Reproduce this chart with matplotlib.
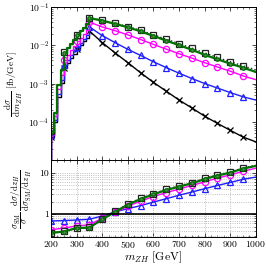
import matplotlib
matplotlib.use("Agg")
import matplotlib.pyplot as plt
import numpy as np
from matplotlib.ticker import MultipleLocator, LogLocator, NullFormatter, FixedLocator, FixedFormatter

plt.rcParams['font.family'] = 'serif'
plt.rcParams['font.serif'] = ['cmr10', 'DejaVu Serif']
plt.rcParams['mathtext.fontset'] = 'cm'
plt.rcParams['axes.formatter.use_mathtext'] = True

# m_ZH grid: fine binning near threshold, then 50 GeV
m_fine = [187.5, 200, 212.5, 225, 237.5, 250, 262.5, 275, 287.5, 300, 312.5, 325, 337.5, 350]
m_coarse = [350, 400, 450, 500, 550, 600, 650, 700, 750, 800, 850, 900, 950, 1000]
m_marks = [200, 250, 300, 350, 400, 450, 500, 550, 600, 650, 700, 750, 800, 850, 900, 950]

# dsigma/dm [fb/GeV], below-threshold bin first
sm_fine = [1e-9, 4.0e-5, 1.0e-4, 4.5e-4, 1.05e-3, 2.5e-3, 3.5e-3, 4.7e-3, 6.0e-3, 7.9e-3, 1.0e-2, 1.26e-2, 1.58e-2, 2.35e-2]
sm_coarse = [2.35e-2, 1.17e-2, 6.3e-3, 3.5e-3, 1.9e-3, 1.07e-3, 6.3e-4, 3.7e-4, 2.3e-4, 1.4e-4, 9.1e-5, 6.0e-5, 4.0e-5, 3.0e-5]

blue_fine = [1e-9, 4.5e-5, 1.1e-4, 5.2e-4, 1.26e-3, 3.1e-3, 4.2e-3, 5.5e-3, 7.1e-3, 9.1e-3, 1.15e-2, 1.45e-2, 1.82e-2, 3.0e-2]
blue_coarse = [3.0e-2, 1.78e-2, 1.17e-2, 7.8e-3, 5.4e-3, 3.7e-3, 2.6e-3, 1.86e-3, 1.35e-3, 1.0e-3, 7.6e-4, 5.8e-4, 4.5e-4, 3.7e-4]

mag_fine = [1e-9, 5.0e-5, 1.4e-4, 7.1e-4, 1.66e-3, 4.2e-3, 5.6e-3, 7.4e-3, 9.8e-3, 1.26e-2, 1.58e-2, 2.0e-2, 2.5e-2, 4.0e-2]
mag_coarse = [4.0e-2, 3.0e-2, 2.4e-2, 1.86e-2, 1.41e-2, 1.05e-2, 7.9e-3, 6.0e-3, 4.6e-3, 3.5e-3, 2.7e-3, 2.1e-3, 1.58e-3, 1.26e-3]

grn_fine = [1e-9, 5.5e-5, 1.7e-4, 9.1e-4, 2.3e-3, 6.3e-3, 8.3e-3, 1.07e-2, 1.4e-2, 1.86e-2, 2.3e-2, 2.8e-2, 3.5e-2, 5.1e-2]
grn_coarse = [5.1e-2, 4.4e-2, 3.6e-2, 2.95e-2, 2.3e-2, 1.74e-2, 1.32e-2, 1.0e-2, 7.6e-3, 5.6e-3, 4.3e-3, 3.3e-3, 2.6e-3, 2.0e-3]

sq_fine = [1e-9, 5.6e-5, 1.75e-4, 9.3e-4, 2.35e-3, 6.5e-3, 8.5e-3, 1.1e-2, 1.43e-2, 1.9e-2, 2.35e-2, 2.85e-2, 3.55e-2, 5.2e-2]
sq_coarse = [5.2e-2, 4.5e-2, 3.7e-2, 3.05e-2, 2.45e-2, 1.87e-2, 1.43e-2, 1.1e-2, 8.4e-3, 6.3e-3, 4.8e-3, 3.7e-3, 2.9e-3, 2.25e-3]

# normalized ratio to SM
m_ratio = [200, 250, 300, 350, 400, 450, 500, 550, 600, 650, 700, 750, 800, 850, 900, 950, 1000]
blue_ratio = [0.68, 0.70, 0.72, 0.75, 0.90, 1.13, 1.35, 1.6, 1.95, 2.35, 2.85, 3.4, 4.1, 4.9, 5.8, 6.9, 7.8]
mag_ratio = [0.42, 0.46, 0.52, 0.55, 0.80, 1.10, 1.55, 2.05, 2.65, 3.3, 4.0, 4.9, 6.0, 7.4, 8.8, 10.8, 12.8]
grn_ratio = [0.35, 0.38, 0.46, 0.47, 0.75, 1.13, 1.70, 2.3, 3.0, 3.8, 4.6, 5.5, 7.0, 8.5, 10.0, 12.5, 14.5]
sq_ratio = [0.35, 0.385, 0.47, 0.48, 0.77, 1.16, 1.75, 2.4, 3.1, 3.95, 4.8, 5.7, 7.3, 8.8, 10.4, 13.0, 15.0]

styles = [
    # fine, coarse, ratio, color, marker, ms, mfc, lw, ls
    (sm_fine, sm_coarse, None, 'black', 'x', 4, 'black', 1.0, '-'),
    (blue_fine, blue_coarse, blue_ratio, '#1f1fff', '^', 4.5, 'none', 1.0, '-'),
    (mag_fine, mag_coarse, mag_ratio, '#ff00ff', 'o', 4.5, 'none', 1.0, '-'),
    (sq_fine, sq_coarse, sq_ratio, '#222222', 's', 5, 'none', 1.0, ':'),
    (grn_fine, grn_coarse, grn_ratio, '#007000', 'o', 2.5, '#5a8a5a', 1.6, '-'),
]

fig = plt.figure(figsize=(2.66, 2.66), dpi=100)
ax1 = fig.add_axes([0.192, 0.398, 0.770, 0.576])
ax2 = fig.add_axes([0.192, 0.109, 0.770, 0.289], sharex=ax1)

for fine, coarse, ratio, col, mk, ms, mfc, lw, ls in styles:
    mx = np.concatenate([m_fine, m_coarse[1:]])
    my = np.concatenate([fine, coarse[1:]])
    ax1.step(m_fine, fine, where='post', color=col, lw=lw, ls=ls)
    ax1.plot(m_coarse, coarse, color=col, lw=lw, ls=ls)
    sel = np.isin(mx, m_marks)
    ax1.plot(mx[sel], my[sel], ls='none', marker=mk, ms=ms, mfc=mfc, mec=col, mew=0.9)
    if ratio is not None:
        r = np.array(ratio)
        mr = np.array(m_ratio)
        ax2.plot(mr, r, color=col, lw=lw, ls=ls)
        sel2 = np.isin(mr, m_marks)
        ax2.plot(mr[sel2], r[sel2], ls='none', marker=mk, ms=ms, mfc=mfc, mec=col, mew=0.9)

ax2.axhline(1.0, color='black', lw=1.2)

ax1.set_yscale('log')
ax1.set_ylim(1e-5, 1e-1)
ax1.set_xlim(200, 1000)
ax1.yaxis.set_major_locator(FixedLocator([1e-5, 1e-4, 1e-3, 1e-2, 1e-1]))
ax1.yaxis.set_major_formatter(FixedFormatter(['', r'$10^{-4}$', r'$10^{-3}$', r'$10^{-2}$', r'$10^{-1}$']))
ax1.yaxis.set_minor_locator(LogLocator(base=10, subs=np.arange(2, 10), numticks=20))
ax1.yaxis.set_minor_formatter(NullFormatter())
plt.setp(ax1.get_xticklabels(), visible=False)

ax2.set_yscale('log')
ax2.set_ylim(0.28, 20)
ax2.yaxis.set_major_locator(FixedLocator([1, 10]))
ax2.yaxis.set_major_formatter(FixedFormatter(['1', '10']))
ax2.yaxis.set_minor_locator(LogLocator(base=10, subs=np.arange(2, 10), numticks=20))
ax2.yaxis.set_minor_formatter(NullFormatter())
ax2.xaxis.set_major_locator(MultipleLocator(100))
ax2.xaxis.set_minor_locator(MultipleLocator(25))
ax2.grid(True, which='major', axis='x', ls=':', color='#aaaaaa', lw=0.6)
ax2.grid(True, which='both', axis='y', ls=':', color='#aaaaaa', lw=0.6)

for ax in (ax1, ax2):
    ax.tick_params(which='both', direction='in', top=True, right=True, labelsize=7, pad=1.5)
    ax.tick_params(which='major', length=3, width=0.5)
    ax.tick_params(which='minor', length=1.5, width=0.4)
    for s in ax.spines.values():
        s.set_linewidth(0.7)

ax1.set_ylabel(r'$\dfrac{\mathrm{d}\sigma}{\mathrm{d}m_{ZH}}$ [fb/GeV]', fontsize=6.8)
ax2.set_ylabel(r'$\dfrac{\sigma_{\rm SM}}{\sigma}\;\dfrac{\mathrm{d}\sigma/\mathrm{d}z_{H}}{\mathrm{d}\sigma_{\rm SM}/\mathrm{d}z_{H}}$',
               fontsize=6.5)
ax2.set_xlabel(r'$m_{ZH}$ [GeV]', fontsize=8.5, labelpad=-0.5)
ax1.yaxis.set_label_coords(-0.125, 0.5)
ax2.yaxis.set_label_coords(-0.085, 0.5)

fig.savefig('out.png', dpi=100)
